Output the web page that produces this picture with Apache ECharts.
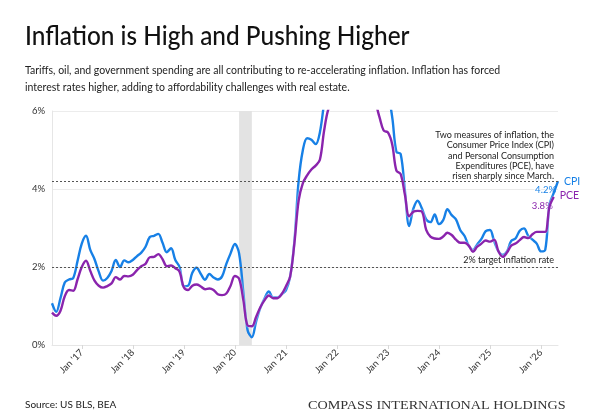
<!DOCTYPE html>
<html>
<head>
<meta charset="utf-8">
<script src="https://cdn.jsdelivr.net/npm/echarts@6/dist/echarts.min.js"></script>
<style>
html,body{margin:0;padding:0;background:#fff;}
#chart{width:600px;height:420px;}
</style>
</head>
<body>
<div id="chart"></div>
<script>
// ---- Data (monthly, Jun 2016 .. May 2026) ----
const startYear = 2016;
const startMonthIndex = 5; // June (0-based)
const monthNames = ['Jan','Feb','Mar','Apr','May','Jun','Jul','Aug','Sep','Oct','Nov','Dec'];

// CPI year-over-year, %
const cpi = [
  1.07, 0.85, 1.2, 1.6, 1.68, 1.72, 2.15, 2.6, 2.8, 2.44,
  2.2, 1.88, 1.65, 1.72, 1.9, 2.18, 2.0, 2.17, 2.12, 2.18,
  2.28, 2.37, 2.52, 2.77, 2.8, 2.85, 2.62, 2.38, 2.48, 2.18,
  2.0, 1.51, 1.52, 1.85, 1.98, 1.82, 1.67, 1.82, 1.73, 1.68,
  1.76, 2.08, 2.35, 2.59, 2.35, 1.35, 0.38, 0.2, 0.6, 0.95,
  1.2, 1.37, 1.22, 1.22, 1.3, 1.4, 1.75, 2.65, 4.2, 5.0,
  5.3, 5.26, 5.15, 5.45, 6.2, 6.8, 7.0, 7.5, 7.9, 8.5,
  8.3, 8.6, 9.1, 8.5, 8.3, 8.2, 7.7, 7.1, 6.5, 6.4,
  5.85, 4.95, 4.9, 3.95, 3.05, 3.5, 3.7, 3.5, 3.22, 3.15,
  3.35, 3.1, 3.2, 3.48, 3.33, 3.22, 2.95, 2.8, 2.55, 2.44,
  2.58, 2.72, 2.92, 2.95, 2.65, 2.4, 2.31, 2.4, 2.67, 2.73,
  2.93, 2.99, 2.8, 2.7, 2.6, 2.4, 2.44, 3.6, 3.9, 4.2
];

// PCE year-over-year, %
const pce = [
  0.83, 0.75, 0.88, 1.25, 1.41, 1.39, 1.68, 2.0, 2.16, 1.9,
  1.65, 1.52, 1.47, 1.51, 1.58, 1.74, 1.68, 1.77, 1.76, 1.8,
  1.92, 2.02, 2.08, 2.25, 2.26, 2.33, 2.2, 2.02, 2.04, 1.97,
  1.88, 1.48, 1.41, 1.52, 1.55, 1.5, 1.43, 1.45, 1.41, 1.3,
  1.28, 1.32, 1.52, 1.77, 1.7, 1.15, 0.5, 0.48, 0.72, 0.97,
  1.15, 1.27, 1.2, 1.2, 1.3, 1.5, 1.75, 2.6, 3.7, 4.15,
  4.35, 4.5, 4.6, 4.75, 5.5, 6.05, 6.2, 6.3, 6.6, 6.8,
  6.4, 6.5, 7.0, 6.4, 6.3, 6.3, 6.2, 5.85, 5.5, 5.45,
  5.15, 4.47, 4.38, 3.85, 3.3, 3.42, 3.44, 3.42, 2.95, 2.78,
  2.73, 2.72, 2.78, 2.88, 2.82, 2.7, 2.62, 2.62, 2.55, 2.39,
  2.52, 2.6, 2.68, 2.65, 2.7, 2.4, 2.26, 2.37, 2.55, 2.6,
  2.69, 2.77, 2.74, 2.84, 2.9, 2.9, 2.9, 3.55, 3.8
];

const yTicks = [0, 2, 4, 6];
const targetRate = 2;
const recession = ["Feb '20", "May '20"];

const cpiColor = '#1780e6';
const pceColor = '#8a24ad';

// category labels
const categories = [];
for (let i = 0; i < cpi.length; i++) {
  const m = (startMonthIndex + i) % 12;
  const y = startYear + Math.floor((startMonthIndex + i) / 12);
  categories.push(monthNames[m] + " '" + String(y).slice(2));
}
const isJan = (idx, val) => String(val).indexOf('Jan') === 0;

const chart = echarts.init(document.getElementById('chart'), null, {renderer: 'canvas'});
const FONT = 'Lato, "Open Sans", sans-serif';

function withEnd(arr) {
  return arr.map((v, i) => i === arr.length - 1
    ? {value: v, symbol: 'circle', symbolSize: 5}
    : v);
}

const option = {
  animation: false,
  backgroundColor: '#fff',
  textStyle: {fontFamily: FONT},
  grid: {left: 52, right: 42, top: 111, bottom: 75, containLabel: false},
  xAxis: {
    type: 'category',
    data: categories,
    boundaryGap: false,
    axisLine: {show: true, lineStyle: {color: '#e6e6e6'}},
    axisTick: {show: true, interval: isJan, length: 4, lineStyle: {color: '#d8d8d8'}},
    axisLabel: {interval: isJan, rotate: 45, fontSize: 9.5, color: '#333', margin: 6, fontFamily: FONT},
    splitLine: {show: false}
  },
  yAxis: {
    type: 'value',
    min: yTicks[0],
    max: yTicks[yTicks.length - 1],
    interval: 2,
    axisLine: {show: true, lineStyle: {color: '#e6e6e6'}},
    axisTick: {show: false},
    axisLabel: {formatter: v => v + '%', fontSize: 9.5, color: '#333', margin: 7, fontFamily: FONT},
    splitLine: {show: true, lineStyle: {color: '#ececec', width: 1}}
  },
  series: [
    {
      name: 'CPI',
      type: 'line',
      data: withEnd(cpi),
      smooth: 0.35,
      symbol: 'none',
      clip: true,
      lineStyle: {color: cpiColor, width: 2.4},
      itemStyle: {color: cpiColor},
      z: 3,
      markArea: {
        silent: true,
        itemStyle: {color: '#e3e3e3'},
        data: [[{xAxis: recession[0]}, {xAxis: recession[1]}]]
      },
      markLine: {
        silent: true,
        symbol: 'none',
        label: {show: false},
        lineStyle: {color: '#555', type: [2, 2], width: 1},
        data: [{yAxis: cpi[cpi.length - 1]}, {yAxis: targetRate}]
      }
    },
    {
      name: 'PCE',
      type: 'line',
      data: withEnd(pce),
      smooth: 0.35,
      symbol: 'none',
      clip: true,
      lineStyle: {color: pceColor, width: 2.4, shadowColor: 'rgba(255,255,255,0.9)', shadowBlur: 2},
      itemStyle: {color: pceColor},
      z: 4
    }
  ]
};
chart.setOption(option);

// ---- annotations positioned from data ----
const lastC = cpi.length - 1, lastP = pce.length - 1;
const pC = chart.convertToPixel({seriesIndex: 0}, [lastC, cpi[lastC]]);
const pP = chart.convertToPixel({seriesIndex: 1}, [lastP, pce[lastP]]);
const pT = chart.convertToPixel({seriesIndex: 0}, [lastC, targetRate]);

const noteLines = [
  'Two measures of inflation, the',
  'Consumer Price Index (CPI)',
  'and Personal Consumption',
  'Expenditures (PCE), have',
  'risen sharply since March.'
];

const graphics = [
  {type: 'text', x: 25, y: 23, scaleX: 0.92, style: {text: 'Inflation is High and Pushing Higher', fontSize: 26.5, fontFamily: FONT, fill: '#111', fontWeight: 500}},
  {type: 'text', x: 25, y: 62, style: {text: 'Tariffs, oil, and government spending are all contributing to re-accelerating inflation. Inflation has forced\ninterest rates higher, adding to affordability challenges with real estate.', fontSize: 10.5, lineHeight: 17, fontFamily: FONT, fill: '#222'}},
  {type: 'text', x: 25, y: 400, style: {text: 'Source: US BLS, BEA', fontSize: 10, fontFamily: FONT, fill: '#222'}},
  {type: 'text', x: 308, y: 399, scaleX: 1.09, style: {text: 'COMPASS INTERNATIONAL HOLDINGS', fontSize: 13, fontFamily: '"Liberation Serif", "DejaVu Serif", serif', fill: '#333'}},
  {type: 'text', x: 554, y: 130, style: {text: noteLines.join('\n'), fontSize: 9, lineHeight: 10.3, fontFamily: FONT, fill: '#222', align: 'right', verticalAlign: 'top'}},
  {type: 'text', x: 554, y: pT[1] - 6.5, style: {text: '2% target inflation rate', fontSize: 9, fontFamily: FONT, fill: '#222', align: 'right', verticalAlign: 'middle'}},
  {type: 'text', x: pC[0] + 6, y: pC[1], style: {text: 'CPI', fontSize: 10.5, fontFamily: FONT, fill: cpiColor, align: 'left', verticalAlign: 'middle'}},
  {type: 'text', x: pC[0] - 2, y: pC[1] + 8.5, style: {text: cpi[lastC].toFixed(1) + '%', fontSize: 9.5, fontFamily: FONT, fill: cpiColor, align: 'right', verticalAlign: 'middle', stroke: '#fff', lineWidth: 2}},
  {type: 'text', x: pP[0] + 6, y: pP[1] - 1, style: {text: 'PCE', fontSize: 10.5, fontFamily: FONT, fill: pceColor, align: 'left', verticalAlign: 'middle'}},
  {type: 'text', x: pP[0] - 1, y: pP[1] + 9, style: {text: pce[lastP].toFixed(1) + '%', fontSize: 9.5, fontFamily: FONT, fill: pceColor, align: 'right', verticalAlign: 'middle', stroke: '#fff', lineWidth: 2}}
];
chart.setOption({graphic: graphics});
</script>
</body>
</html>
